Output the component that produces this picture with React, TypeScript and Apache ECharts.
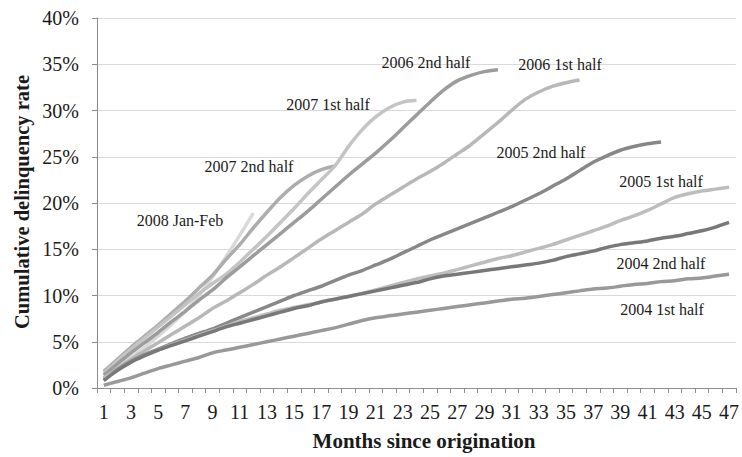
import React, { useEffect, useRef } from "react";
import * as echarts from "echarts";

const months: string[] = Array.from({ length: 47 }, (_, i) => String(i + 1));

const s2004H1 = [0.3, 0.7, 1.1, 1.6, 2.1, 2.5, 2.9, 3.3, 3.8, 4.1, 4.4, 4.7, 5.0, 5.3, 5.6, 5.9, 6.2, 6.5, 6.9, 7.3, 7.6, 7.8, 8.0, 8.2, 8.4, 8.6, 8.8, 9.0, 9.2, 9.4, 9.6, 9.7, 9.9, 10.1, 10.3, 10.5, 10.7, 10.8, 11.0, 11.2, 11.3, 11.5, 11.6, 11.8, 11.9, 12.1, 12.3];
const s2004H2 = [0.8, 1.9, 2.8, 3.5, 4.1, 4.6, 5.1, 5.6, 6.1, 6.6, 7.0, 7.4, 7.8, 8.2, 8.6, 8.9, 9.3, 9.6, 9.9, 10.2, 10.5, 10.8, 11.1, 11.4, 11.8, 12.1, 12.3, 12.5, 12.7, 12.9, 13.1, 13.3, 13.5, 13.8, 14.2, 14.5, 14.8, 15.2, 15.5, 15.7, 15.9, 16.2, 16.4, 16.7, 17.0, 17.4, 17.9];
const s2005H1 = [1.0, 1.9, 2.8, 3.5, 4.1, 4.7, 5.2, 5.7, 6.2, 6.7, 7.2, 7.6, 8.0, 8.4, 8.7, 9.0, 9.3, 9.6, 9.9, 10.2, 10.6, 11.0, 11.4, 11.8, 12.1, 12.4, 12.8, 13.2, 13.6, 14.0, 14.3, 14.7, 15.1, 15.5, 16.0, 16.5, 17.0, 17.5, 18.1, 18.6, 19.2, 19.9, 20.6, 21.0, 21.3, 21.5, 21.7];
const s2005H2 = [0.9, 2.0, 2.9, 3.6, 4.2, 4.8, 5.4, 5.9, 6.4, 7.0, 7.6, 8.2, 8.8, 9.4, 10.0, 10.5, 11.0, 11.6, 12.2, 12.7, 13.3, 13.9, 14.6, 15.3, 16.0, 16.6, 17.2, 17.8, 18.4, 19.0, 19.6, 20.3, 21.0, 21.8, 22.6, 23.5, 24.4, 25.1, 25.7, 26.1, 26.4, 26.6];
const s2006H1 = [1.1, 2.1, 3.1, 4.0, 4.9, 5.8, 6.7, 7.6, 8.6, 9.4, 10.3, 11.2, 12.2, 13.1, 14.1, 15.1, 16.1, 17.0, 17.9, 18.8, 19.9, 20.8, 21.7, 22.6, 23.4, 24.3, 25.3, 26.3, 27.5, 28.7, 30.0, 31.2, 32.0, 32.6, 33.0, 33.3];
const s2006H2 = [1.4, 2.6, 3.8, 4.9, 6.0, 7.2, 8.3, 9.5, 10.6, 11.9, 13.1, 14.3, 15.5, 16.7, 17.9, 19.1, 20.4, 21.7, 23.0, 24.2, 25.4, 26.7, 28.1, 29.5, 30.9, 32.2, 33.2, 33.8, 34.2, 34.4];
const s2007H1 = [1.6, 2.9, 4.2, 5.4, 6.6, 7.8, 9.0, 10.2, 11.3, 12.3, 13.6, 15.0, 16.4, 17.9, 19.4, 21.0, 22.5, 24.0, 26.1, 27.9, 29.3, 30.3, 30.9, 31.1];
const s2007H2 = [1.8, 3.1, 4.4, 5.6, 6.8, 8.1, 9.4, 10.8, 12.2, 13.9, 15.5, 17.3, 19.0, 20.6, 21.9, 22.9, 23.6, 24.0];
const s2008JF = [1.2, 2.2, 3.3, 4.4, 5.6, 6.9, 8.3, 10.0, 12.0, 14.2, 16.5, 18.9];

const seriesNames = ["2004 1st half", "2004 2nd half", "2005 1st half", "2005 2nd half", "2006 1st half", "2006 2nd half", "2007 1st half", "2007 2nd half", "2008 Jan-Feb"];
const seriesData = [s2004H1, s2004H2, s2005H1, s2005H2, s2006H1, s2006H2, s2007H1, s2007H2, s2008JF];
const seriesColors = ["#999999", "#787878", "#bdbdbd", "#888888", "#b8b8b8", "#9c9c9c", "#c4c4c4", "#adadad", "#d9d9d9"];
const labelPos: [number, number][] = [
  [662, 309], [661, 263], [661, 181], [541, 152], [560, 64], [426, 62], [328, 104], [249, 166], [180, 220],
];

const yTicks = [0, 5, 10, 15, 20, 25, 30, 35, 40];

const FONT = "'Liberation Serif', 'Times New Roman', serif";

export default function App() {
  const ref = useRef<HTMLDivElement>(null);
  useEffect(() => {
    if (!ref.current) return;
    const chart = echarts.init(ref.current, null, { renderer: "svg" });
    chart.setOption({
      animation: false,
      backgroundColor: "#ffffff",
      grid: { left: 97, right: 1, top: 18, bottom: 69, containLabel: false },
      xAxis: {
        type: "category",
        data: months,
        boundaryGap: true,
        axisLine: { show: true, lineStyle: { color: "#8c8c8c", width: 1 } },
        axisTick: { show: true, interval: 0, length: 5, lineStyle: { color: "#8c8c8c" } },
        axisLabel: { interval: 1, fontFamily: FONT, fontSize: 20, color: "#1a1a1a", margin: 14 },
        splitLine: { show: false },
      },
      yAxis: {
        type: "value",
        min: yTicks[0],
        max: yTicks[yTicks.length - 1],
        interval: 5,
        axisLine: { show: true, lineStyle: { color: "#8c8c8c", width: 1 } },
        axisTick: { show: true, length: 5, lineStyle: { color: "#8c8c8c" } },
        axisLabel: { formatter: "{value}%", fontFamily: FONT, fontSize: 20, color: "#1a1a1a", margin: 18 },
        splitLine: { show: true, lineStyle: { color: "#d9d9d9", width: 1 } },
      },
      series: seriesNames.map((name, i) => ({
        name,
        type: "line",
        data: seriesData[i],
        smooth: 0.3,
        symbol: "none",
        lineStyle: { color: seriesColors[i], width: 3.5 },
        z: 2 + (seriesNames.length - i),
      })),
      graphic: [
        ...seriesNames.map((name, i) => ({
          type: "text",
          x: labelPos[i][0],
          y: labelPos[i][1],
          style: {
            text: name,
            font: `16px ${FONT}`,
            fill: "#1a1a1a",
            textAlign: "center",
            textVerticalAlign: "middle",
          },
          z: 100,
        })),
        {
          type: "text",
          x: 22,
          y: 202,
          rotation: Math.PI / 2,
          style: {
            text: "Cumulative delinquency rate",
            font: `bold 20.5px ${FONT}`,
            fill: "#1a1a1a",
            textAlign: "center",
            textVerticalAlign: "middle",
          },
        },
        {
          type: "text",
          x: 424,
          y: 441,
          style: {
            text: "Months since origination",
            font: `bold 21px ${FONT}`,
            fill: "#1a1a1a",
            textAlign: "center",
            textVerticalAlign: "middle",
          },
        },
      ],
    });
    return () => chart.dispose();
  }, []);
  return (
    <div
      ref={ref}
      style={{ position: "fixed", left: 0, top: 0, width: 742, height: 457, background: "#fff" }}
    />
  );
}
